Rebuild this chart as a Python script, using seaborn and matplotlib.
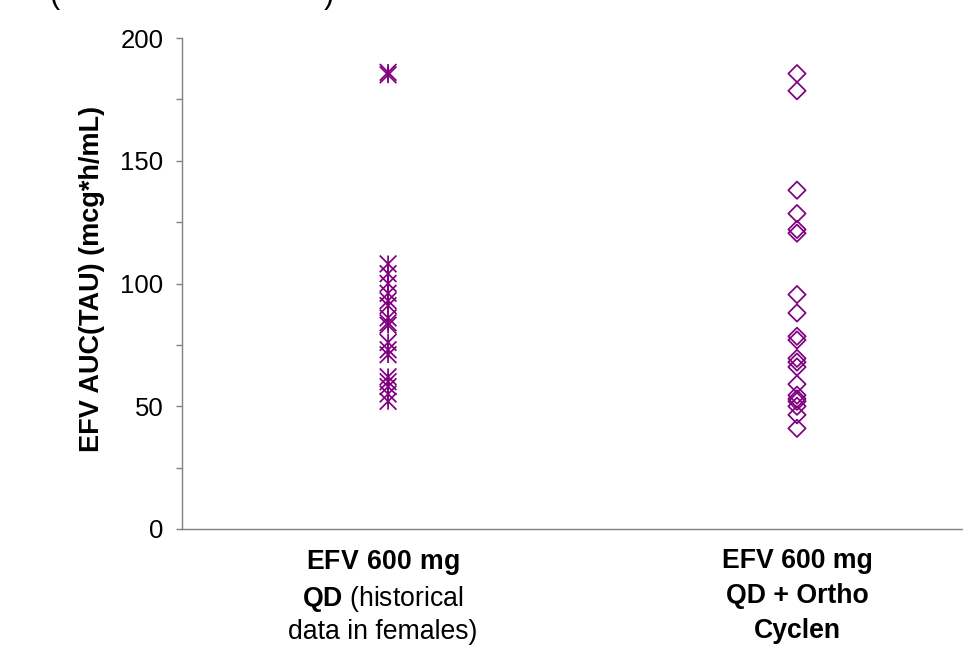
import matplotlib
matplotlib.use("Agg")
import matplotlib.pyplot as plt
import matplotlib.transforms as mtransforms
import seaborn as sns
import numpy as np
import pandas as pd
from matplotlib.path import Path
from matplotlib.ticker import MultipleLocator

# ---- data ----
categories = [
    "$\\mathbf{EFV\\ 600\\ mg}$\n$\\mathbf{QD}$ (historical\ndata in females)",
    "EFV 600 mg\nQD + Ortho\nCyclen",
]
historical_auc = [186, 185, 108, 104, 100, 96, 93, 91, 86, 84, 83, 76, 73, 71,
                  62, 60, 58, 55, 52]
ortho_auc = [185.5, 178.5, 138, 128.5, 122, 120.5, 95.5, 88, 78.5, 77, 69.5,
             68, 66, 59, 54.5, 53, 52, 50, 46.5, 41]
yticks = [0, 50, 100, 150, 200]
ylabel = "EFV AUC(TAU) (mcg*h/mL)"

purple = "#800080"
grey = "#808080"

sns.set_style("white")
plt.rcParams["font.family"] = ["Liberation Sans", "DejaVu Sans"]
plt.rcParams["text.color"] = "black"
plt.rcParams["axes.labelcolor"] = "black"
plt.rcParams["xtick.color"] = "black"
plt.rcParams["ytick.color"] = "black"
plt.rcParams["mathtext.fontset"] = "custom"
plt.rcParams["mathtext.rm"] = "Liberation Sans"
plt.rcParams["mathtext.bf"] = "Liberation Sans:bold"

fig = plt.figure(figsize=(9.63, 6.45), dpi=100)
ax = fig.add_axes([182 / 963, 1 - 529 / 645, 1 - 182 / 963, (529 - 38) / 645])

# Excel-like star marker: vertical line + X
star = Path([(0, -1), (0, 1), (-1, -1), (1, 1), (-1, 1), (1, -1)],
            [Path.MOVETO, Path.LINETO, Path.MOVETO, Path.LINETO,
             Path.MOVETO, Path.LINETO])

df1 = pd.DataFrame({"group": [categories[0]] * len(historical_auc), "auc": historical_auc})
df2 = pd.DataFrame({"group": [categories[1]] * len(ortho_auc), "auc": ortho_auc})

sns.stripplot(data=df1, x="group", y="auc", order=categories, jitter=False,
              marker=star, s=12, color=purple, edgecolor=purple,
              linewidth=1.3, ax=ax)

sns.stripplot(data=df2, x="group", y="auc", order=categories, jitter=False,
              marker="D", s=8.8, color=purple, edgecolor=purple,
              linewidth=1.2, ax=ax)

for c in ax.collections:
    c.set_facecolor("none")
    c.set_edgecolor(purple)
    c.set_linewidth(1.25)

ax.set_xlim(-0.504, 1.406)
ax.set_ylim(0, 200)
ax.set_yticks(yticks)
ax.yaxis.set_minor_locator(MultipleLocator(25))
ax.tick_params(axis="y", which="both", direction="out", length=4.3, width=1,
               color=grey, labelcolor="black", labelsize=18.5, pad=9, left=True)
ax.tick_params(axis="x", length=0, labelsize=19.2, pad=14, labelcolor="black")
ax.set_xlabel("")
ax.set_ylabel(ylabel, fontsize=19.5, fontweight="bold", color="black")
ax.yaxis.label.set_va("center")
ax.yaxis.set_label_coords((92 - 182) / 781, 0.51)

labels = ax.get_xticklabels()
labels[0].set_linespacing(1.28)
labels[0].set_transform(labels[0].get_transform() +
                        mtransforms.ScaledTranslation(-5 / 100, 0, fig.dpi_scale_trans))
labels[1].set_fontweight("bold")
labels[1].set_linespacing(1.44)

for side in ["top", "right"]:
    ax.spines[side].set_visible(False)
for side in ["left", "bottom"]:
    ax.spines[side].set_color(grey)
    ax.spines[side].set_linewidth(1)

# clipped title remnants at the top
fig.text(49 / 963, 1 - 2.5 / 645, "(", fontsize=22, va="baseline", ha="left")
fig.text(324 / 963, 1 - 2.5 / 645, ")", fontsize=22, va="baseline", ha="left")

fig.savefig("out.png", dpi=100)
